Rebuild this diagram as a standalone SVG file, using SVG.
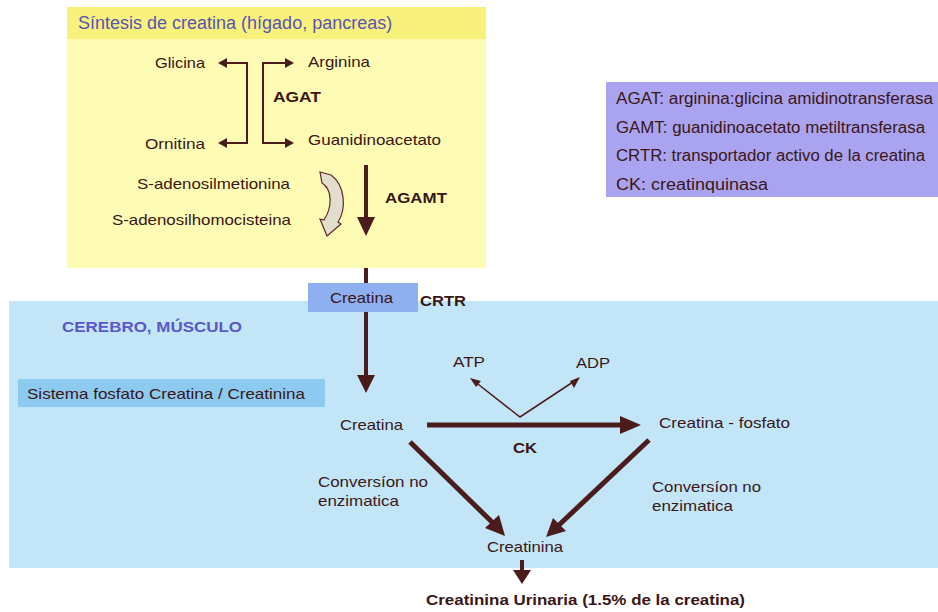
<svg xmlns="http://www.w3.org/2000/svg" width="938" height="612" viewBox="0 0 938 612">
<style>
.t{font-family:"Liberation Sans",Arial,sans-serif;font-size:15px;fill:#3a1616}
.l{font-size:16px}
.b{font-weight:bold}
.ln{stroke:#4a1c1c;fill:none}
</style>
<rect width="938" height="612" fill="#ffffff"/>
<g id="sintesis">
<rect x="67" y="7" width="419" height="261" fill="#fdfbb4"/>
<rect x="67" y="7" width="419" height="32" fill="#f8f27c"/>
<text x="78" y="29" style="font-family:'Liberation Sans',Arial,sans-serif;font-size:18px;fill:#5a52b4">Síntesis de creatina (hígado, pancreas)</text>
</g>
<g id="cerebro">
<rect x="9" y="301" width="929" height="267" fill="#c2e6f8"/>
<text x="62" y="332" class="t b" style="fill:#5c56c8" textLength="180" lengthAdjust="spacingAndGlyphs">CEREBRO, MÚSCULO</text>
</g>
<g id="legend">
<rect x="606" y="82" width="332" height="115" fill="#aaa4f0"/>
<text x="616" y="104" class="t l" textLength="317" lengthAdjust="spacingAndGlyphs">AGAT: arginina:glicina amidinotransferasa</text>
<text x="616" y="133" class="t l" textLength="309" lengthAdjust="spacingAndGlyphs">GAMT: guanidinoacetato metiltransferasa</text>
<text x="616" y="161" class="t l" textLength="309" lengthAdjust="spacingAndGlyphs">CRTR: transportador activo de la creatina</text>
<text x="616" y="190" class="t l" textLength="152" lengthAdjust="spacingAndGlyphs">CK: creatinquinasa</text>
</g>
<g id="sistema">
<rect x="18" y="379" width="307" height="28" fill="#8ccaf0"/>
<text x="27" y="399" class="t" textLength="278" lengthAdjust="spacingAndGlyphs">Sistema fosfato Creatina / Creatinina</text>
</g>
<g id="creatina-crtr">
<rect x="308" y="283" width="110" height="29" fill="#8fb0f0"/>
<text x="330" y="303" class="t" textLength="63" lengthAdjust="spacingAndGlyphs">Creatina</text>
<text x="420" y="306" class="t b" textLength="46" lengthAdjust="spacingAndGlyphs">CRTR</text>
</g>
<g id="nodes">
<text x="155" y="68" class="t" textLength="50" lengthAdjust="spacingAndGlyphs">Glicina</text>
<text x="145" y="149" class="t" textLength="60" lengthAdjust="spacingAndGlyphs">Ornitina</text>
<text x="308" y="67" class="t" textLength="62" lengthAdjust="spacingAndGlyphs">Arginina</text>
<text x="308" y="145" class="t" textLength="133" lengthAdjust="spacingAndGlyphs">Guanidinoacetato</text>
<text x="273" y="102" class="t b" textLength="48" lengthAdjust="spacingAndGlyphs">AGAT</text>
<text x="137" y="189" class="t" textLength="153" lengthAdjust="spacingAndGlyphs">S-adenosilmetionina</text>
<text x="112" y="225" class="t" textLength="179" lengthAdjust="spacingAndGlyphs">S-adenosilhomocisteina</text>
<text x="385" y="203" class="t b" textLength="62" lengthAdjust="spacingAndGlyphs">AGAMT</text>
<text x="340" y="430" class="t" textLength="63" lengthAdjust="spacingAndGlyphs">Creatina</text>
<text x="659" y="428" class="t" textLength="131" lengthAdjust="spacingAndGlyphs">Creatina - fosfato</text>
<text x="513" y="453" class="t b" textLength="24" lengthAdjust="spacingAndGlyphs">CK</text>
<text x="453" y="367" class="t" textLength="32" lengthAdjust="spacingAndGlyphs">ATP</text>
<text x="576" y="368" class="t" textLength="34" lengthAdjust="spacingAndGlyphs">ADP</text>
<text x="318" y="487" class="t" textLength="110" lengthAdjust="spacingAndGlyphs">Conversíon no</text>
<text x="318" y="506" class="t" textLength="81" lengthAdjust="spacingAndGlyphs">enzimatica</text>
<text x="652" y="492" class="t" textLength="109" lengthAdjust="spacingAndGlyphs">Conversíon no</text>
<text x="652" y="511" class="t" textLength="81" lengthAdjust="spacingAndGlyphs">enzimatica</text>
<text x="487" y="552" class="t" textLength="76" lengthAdjust="spacingAndGlyphs">Creatinina</text>
<text x="426" y="605" class="t b" textLength="319" lengthAdjust="spacingAndGlyphs">Creatinina Urinaria (1.5% de la creatina)</text>
</g>
<g id="connectors">
<path class="ln" stroke-width="2" d="M220,63 H247 V143 H220" />
<path d="M218,63 l9,-5 v10 z M218,143 l9,-5 v10 z" fill="#4a1c1c"/>
<path class="ln" stroke-width="2" d="M292,63 H263 V143 H292" />
<path d="M294,63 l-9,-5 v10 z M294,143 l-9,-5 v10 z" fill="#4a1c1c"/>
<path d="M320,172 L331,175 C346,186 346,210 338,222 L341,224 L327,236 L320,219 L324,220 C332,208 333,190 322,183 Z" fill="#e2ddcc" stroke="#5a2a2a" stroke-width="1.2"/>
<line class="ln" x1="366" y1="165" x2="366" y2="218" stroke-width="4"/>
<path d="M357,217 H375 L366,236 Z" fill="#4a1c1c"/>
<line class="ln" x1="366" y1="268" x2="366" y2="283" stroke-width="4"/>
<line class="ln" x1="366" y1="312" x2="366" y2="376" stroke-width="4"/>
<path d="M357,375 H375 L366,393 Z" fill="#4a1c1c"/>
<line class="ln" x1="427" y1="425" x2="622" y2="425" stroke-width="5"/>
<path d="M620,416 L641,425 L620,434 Z" fill="#4a1c1c"/>
<path class="ln" stroke-width="1.5" d="M474,381 L520,417 L576,380"/>
<path d="M470,378 L481,381 L476,387 Z M580,377 L574,388 L570,381 Z" fill="#4a1c1c"/>
<line class="ln" x1="410" y1="442" x2="493" y2="523" stroke-width="5"/>
<path d="M485,528 L499,515 L505,536 Z" fill="#4a1c1c"/>
<line class="ln" x1="649" y1="440" x2="559" y2="525" stroke-width="5"/>
<path d="M553,518 L566,531 L546,537 Z" fill="#4a1c1c"/>
<line class="ln" x1="522" y1="560" x2="522" y2="572" stroke-width="4"/>
<path d="M513,570 H531 L522,584 Z" fill="#4a1c1c"/>
</g>
</svg>
